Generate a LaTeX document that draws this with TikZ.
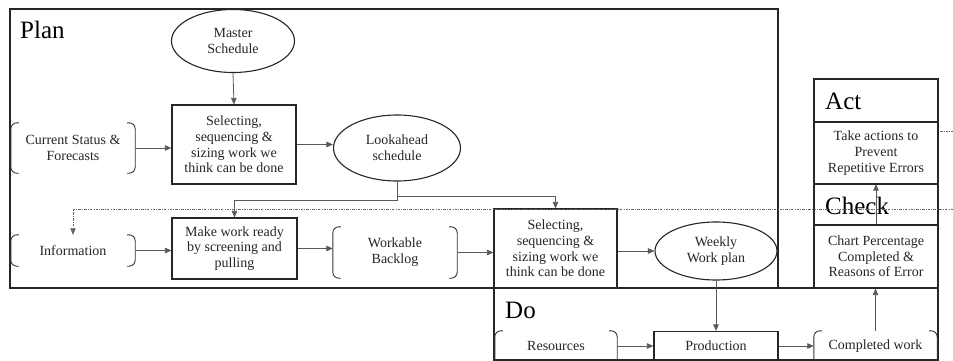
\documentclass[tikz,border=0pt]{standalone}
\usepackage{fontspec}
\setmainfont{Liberation Serif}
\usetikzlibrary{shapes.geometric,arrows.meta}

\tikzset{
  txt/.style={font=\fontsize{14}{15.7}\selectfont, text=black!85, align=center, inner sep=0pt},
  title/.style={font=\fontsize{25}{28}\selectfont, text=black, anchor=base west, inner sep=0pt},
  frame/.style={draw=black!85, line width=1.2pt},
  procbox/.style={txt, draw=black!85, line width=1.2pt, rectangle},
  oval/.style={txt, draw=black!85, line width=1.1pt, ellipse},
  store/.style={txt},
  conn/.style={draw=black!65, line width=0.8pt, -{Triangle[length=6.5pt,width=5.5pt]}},
  feedback/.style={draw=black!60, line width=0.6pt, dash pattern=on 2.5pt off 1.2pt on 0.8pt off 1.2pt},
  brk/.style={draw=black!80, line width=0.9pt, rounded corners=6pt},
}

% curly side marks of a data store: both sides closed
\newcommand\storemarks[1]{%
  \draw[brk] ([xshift=8pt]#1.north west) -- (#1.north west) -- (#1.south west) -- ([xshift=8pt]#1.south west);
  \draw[brk] ([xshift=-8pt]#1.north east) -- (#1.north east) -- (#1.south east) -- ([xshift=-8pt]#1.south east);}
% side marks open at the bottom
\newcommand\storemarkstop[1]{%
  \draw[brk] ([xshift=8pt]#1.north west) -- (#1.north west) -- ([yshift=-2pt]#1.south west);
  \draw[brk] ([xshift=-8pt]#1.north east) -- (#1.north east) -- ([yshift=-2pt]#1.south east);}

\begin{document}
\begin{tikzpicture}[x=1pt,y=-1pt]
  \useasboundingbox[fill=white] (0,0) rectangle (953,361);

  % phase frames
  \draw[frame] (10,9) rectangle (778,288);
  \draw[frame] (494,288) rectangle (938,360);
  \draw[frame] (814,79) rectangle (938,184);
  \draw[frame] (814,122) -- (938,122);
  \draw[frame] (814,184) rectangle (938,288);

  \node[title] (tplan)  at (20,39)  {Plan};
  \node[title] (tact)   at (825,109) {Act};
  \node[title] (tcheck) at (825,214) {Check};
  \node[title] (tdo)    at (505,318) {Do};

  % Plan
  \node[oval, minimum width=123pt, minimum height=63pt] (master) at (233,41) {Master\\Schedule};
  \node[procbox, minimum width=124pt, minimum height=79pt] (sel1) at (234,144.5) {Selecting,\\sequencing \&\\sizing work we\\think can be done};
  \node[store, minimum width=124pt, minimum height=50pt] (cur) at (73,148) {Current Status \&\\Forecasts};
  \node[oval, minimum width=127pt, minimum height=66pt] (look) at (397,148) {Lookahead\\schedule};
  \node[store, minimum width=124pt, minimum height=31pt] (info) at (73,250.5) {Information};
  \node[procbox, minimum width=125pt, minimum height=61pt] (ready) at (234.5,248.5) {Make work ready\\by screening and\\pulling};
  \node[store, minimum width=124pt, minimum height=51pt] (backlog) at (395,252.5) {Workable\\Backlog};
  \node[procbox, minimum width=123pt, minimum height=79pt] (sel2) at (555.5,248.5) {Selecting,\\sequencing \&\\sizing work we\\think can be done};
  \node[oval, minimum width=122pt, minimum height=58pt] (weekly) at (716,251) {Weekly\\Work plan};

  % Do
  \node[store, minimum width=122pt, minimum height=30pt] (res) at (556,346) {Resources};
  \node[procbox, minimum width=124pt, minimum height=29pt] (prod) at (716,346) {Production};
  \node[store, minimum width=123pt, minimum height=30pt] (comp) at (875.5,346) {Completed work};

  % Check and Act
  \node[procbox, minimum width=124pt, minimum height=63pt] (chart) at (876,256.5) {Chart Percentage\\Completed \&\\Reasons of Error};
  \node[txt, minimum width=124pt, minimum height=62pt] (take) at (876,153) {Take actions to\\Prevent\\Repetitive Errors};

  \storemarks{cur}
  \storemarks{info}
  \storemarks{backlog}
  \storemarkstop{res}
  \storemarkstop{comp}

  % flow
  \draw[conn] (master.south) -- (sel1.north);
  \draw[conn] (cur.east) -- (cur.east -| sel1.west);
  \draw[conn] (sel1.east) -- (sel1.east -| look.west);
  \draw[conn] (look.south) -- (look.south |- 0,196) -| (sel2.north);
  \draw[conn] (look.south) -- (look.south |- 0,200) -| (ready.north);
  \draw[conn] (info.east) -- (info.east -| ready.west);
  \draw[conn] (ready.east) -- (ready.east -| backlog.west);
  \draw[conn] (backlog.east) -- (backlog.east -| sel2.west);
  \draw[conn] (sel2.east |- weekly.west) -- (weekly.west);
  \draw[conn] (weekly.south) -- (weekly.south |- prod.north);
  \draw[conn] (res.east) -- (prod.west);
  \draw[conn] (prod.east) -- (comp.west);
  \draw[conn] (comp.north) -- (comp.north |- chart.south);
  \draw[conn] (chart.north) -- (chart.north |- take.south);

  % feedback lines
  \coordinate (fbin) at (953,209);
  \draw[feedback, -{Triangle[length=6.5pt,width=5.5pt]}] (fbin) -| (info.north);
  \coordinate (fbouta) at (940,131);
  \coordinate (fboutb) at (953,131);
  \draw[feedback] (fbouta) -- (fboutb);
\end{tikzpicture}
\end{document}
